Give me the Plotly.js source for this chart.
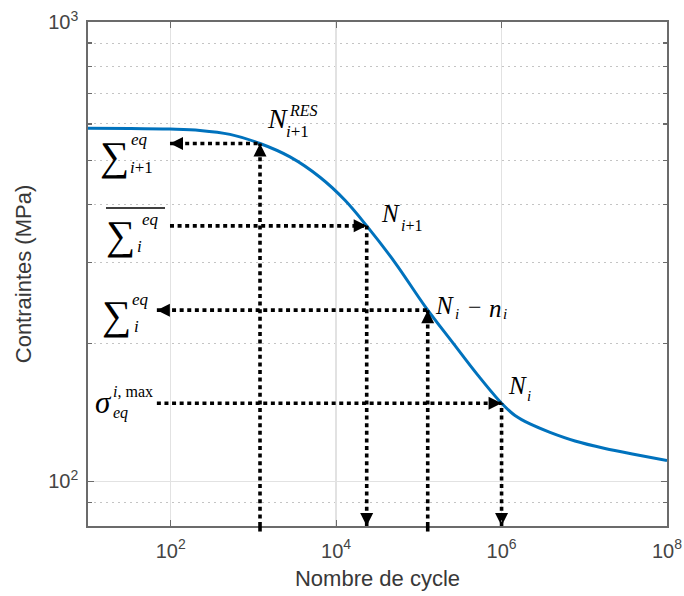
<!DOCTYPE html>
<html><head><meta charset="utf-8">
<script src="https://cdn.plot.ly/plotly-3.0.1.min.js"></script>
<style>html,body{margin:0;padding:0;background:#fff}</style>
</head><body><div id="chart" style="width:684px;height:596px"></div>
<script>
// S-N curve (cycles, MPa)
const cycles = [10, 32, 98, 226, 521, 1201, 2770, 6380, 12800, 23420, 51460, 118700, 260900, 519000, 1.0e6, 1.453e6, 2.207e6, 3.85e6, 7.72e6, 1.78e7, 4.1e7, 1e8];
const stress = [587, 586.5, 584.7, 580.9, 569.4, 544, 508.6, 459.3, 409.2, 360, 299.6, 240.6, 199.8, 170.2, 148, 139.2, 133.4, 127.9, 122.5, 118, 114.5, 111.1];
// marked points: N_{i+1}^RES, N_{i+1}, N_i - n_i, N_i
const pointN = [1201, 23420, 128000, 1.0e6];
const pointS = [544, 360, 236, 148];
// where the horizontal arrows end near the left labels
const labelEndN = [98, 98, 68, 68];
const hArrowDir = ['left', 'right', 'left', 'right'];
const vArrowDir = ['up', 'down', 'up', 'down'];
const xRange = [10, 1e8];
const yRange = [80, 1000];
const xTickVals = [1e2, 1e4, 1e6, 1e8];
const xTickText = ['10<sup>2</sup>', '10<sup>4</sup>', '10<sup>6</sup>', '10<sup>8</sup>'];
const yTickVals = [1e2, 1e3];
const yTickText = ['10<sup>2</sup>', '10<sup>3</sup>'];
const yMinorVals = [90, 200, 300, 400, 500, 600, 700, 800, 900];

const PL = 88, PT = 22, PW = 579, PH = 504;
const serif = 'Liberation Serif, Times New Roman, serif';
const sans = 'Liberation Sans, Arial, sans-serif';

const dotLine = {color: '#000', width: 3.6, dash: '4px,3.6px'};
const shapes = [];
const annotations = [];
const headX = [], headY = [], headSym = [];

pointN.forEach((n, i) => {
  const s = pointS[i];
  shapes.push({type: 'line', xref: 'x', yref: 'y', x0: labelEndN[i], x1: n, y0: s, y1: s, line: dotLine, layer: 'above'});
  shapes.push({type: 'line', xref: 'x', yref: 'y', x0: n, x1: n, y0: yRange[0], y1: s, line: dotLine, layer: 'above'});
  if (vArrowDir[i] === 'up') {
    shapes.push({type: 'line', xref: 'x', yref: 'paper', x0: n, x1: n, y0: 0, y1: -0.011, line: {color: '#000', width: 3.6}});
  }
  headX.push(hArrowDir[i] === 'left' ? labelEndN[i] : n); headY.push(s); headSym.push('arrow-' + hArrowDir[i]);
  headX.push(n); headY.push(vArrowDir[i] === 'up' ? s : yRange[0]); headSym.push('arrow-' + vArrowDir[i]);
});

function lab(text, px, py, size, fam) {
  return {xref: 'paper', yref: 'paper', x: (px - PL) / PW, y: (PT + PH - py) / PH, text: text,
    showarrow: false, xanchor: 'center', yanchor: 'middle',
    font: {family: fam || serif, size: size, color: '#000'}};
}
function pxLine(x0, y0, x1, y1) {
  return {type: 'line', xref: 'paper', yref: 'paper', x0: (x0 - PL) / PW, x1: (x1 - PL) / PW,
    y0: (PT + PH - y0) / PH, y1: (PT + PH - y1) / PH, line: {color: '#000', width: 1.3}};
}

annotations.push(
  // sum_{i+1}^{eq}
  lab('∑', 114, 156, 41), lab('<i>eq</i>', 139, 140, 17), lab('<i>i</i>+1', 141, 167, 17),
  // overline sum_i^{eq}
  lab('∑', 120, 235, 41), lab('<i>eq</i>', 150, 219, 17), lab('<i>i</i>', 139, 246, 17),
  // sum_i^{eq}
  lab('∑', 116, 315, 41), lab('<i>eq</i>', 140, 299, 17), lab('<i>i</i>', 136, 326, 17),
  // sigma_eq^{i,max}
  lab('<i>σ</i>', 103, 402, 31), lab('<i>i</i>, max', 133, 391, 16), lab('<i>eq</i>', 120, 413, 16),
  // N_{i+1}^{RES}
  lab('<i>N</i>', 277, 118, 28), lab('<i>RES</i>', 303, 110, 16), lab('<i>i</i>+1', 297, 131, 17),
  // N_{i+1}
  lab('<i>N</i>', 390, 213, 25), lab('<i>i</i>+1', 411, 225, 16),
  // N_i - n_i
  lab('<i>N</i>', 444, 305, 25), lab('<i>i</i>', 457, 314, 15), lab('−', 475, 307, 24),
  lab('<i>n</i>', 495, 308, 25), lab('<i>i</i>', 505, 314, 15),
  // N_i
  lab('<i>N</i>', 517, 385, 25), lab('<i>i</i>', 529, 396, 15)
);
shapes.push(pxLine(106, 208, 165, 208));

const curve = {
  x: cycles, y: stress, type: 'scatter', mode: 'lines',
  line: {color: '#0072BD', width: 3, shape: 'spline', smoothing: 1},
  hoverinfo: 'skip', showlegend: false
};
const heads = {
  x: headX, y: headY, type: 'scatter', mode: 'markers', cliponaxis: true,
  marker: {symbol: headSym, size: 13, color: '#000', line: {width: 0}},
  hoverinfo: 'skip', showlegend: false
};

const axisCommon = {
  type: 'log', showline: true, linecolor: '#6b6b6b', linewidth: 1.8, mirror: 'ticks',
  ticks: 'inside', ticklen: 6, tickwidth: 1.2, tickcolor: '#6b6b6b',
  showgrid: true, gridcolor: '#e2e2e2', gridwidth: 1.3, zeroline: false,
  tickmode: 'array', tickfont: {family: sans, size: 20, color: '#444'}
};

const layout = {
  width: 684, height: 596,
  margin: {l: PL, r: 684 - PL - PW, t: PT, b: 596 - PT - PH},
  paper_bgcolor: '#fff', plot_bgcolor: '#fff',
  showlegend: false,
  xaxis: Object.assign({}, axisCommon, {
    range: [Math.log10(xRange[0]), Math.log10(xRange[1])],
    tickvals: xTickVals, ticktext: xTickText, ticklabelstandoff: 6,
    title: {text: 'Nombre de cycle', font: {family: sans, size: 22, color: '#383838'}, standoff: 10}
  }),
  yaxis: Object.assign({}, axisCommon, {
    range: [Math.log10(yRange[0]), Math.log10(yRange[1])],
    tickvals: yTickVals, ticktext: yTickText, ticklabelstandoff: 4,
    minor: {tickvals: yMinorVals, ticks: 'inside', ticklen: 4, tickcolor: '#6b6b6b',
      showgrid: true, gridcolor: '#c4c4c4', gridwidth: 1, griddash: '2px,4px'},
    title: {text: 'Contraintes (MPa)', font: {family: sans, size: 22, color: '#383838'}, standoff: 10}
  }),
  shapes: shapes,
  annotations: annotations
};

Plotly.newPlot('chart', [curve, heads], layout, {displayModeBar: false, staticPlot: true});
</script></body></html>
